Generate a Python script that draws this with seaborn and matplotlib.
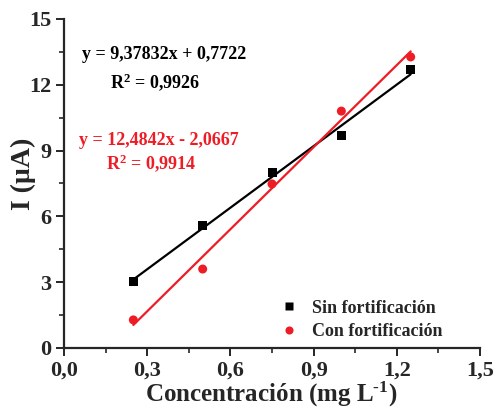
import numpy as np
import pandas as pd
import matplotlib
matplotlib.use("Agg")
import matplotlib.pyplot as plt
import seaborn as sns
from matplotlib.ticker import MultipleLocator, FuncFormatter

conc = [0.25, 0.50, 0.75, 1.00, 1.25]
sin_fort = [3.05, 5.58, 7.98, 9.71, 12.68]
con_fort = [1.28, 3.60, 7.48, 10.80, 13.27]
series_names = ["Sin fortificación", "Con fortificación"]
eq_sin = "y = 9,37832x + 0,7722"
r2_sin = "R$^2$ = 0,9926"
eq_con = "y = 12,4842x - 2,0667"
r2_con = "R$^2$ = 0,9914"

df = pd.DataFrame({
    "x": conc * 2,
    "y": sin_fort + con_fort,
    "serie": [series_names[0]] * len(conc) + [series_names[1]] * len(conc),
})

sns.set_style("ticks")
plt.rcParams["font.family"] = ["Liberation Serif", "DejaVu Serif"]
plt.rcParams["font.weight"] = "bold"
plt.rcParams["mathtext.fontset"] = "custom"
plt.rcParams["mathtext.rm"] = "Liberation Serif:bold"
plt.rcParams["mathtext.bf"] = "Liberation Serif:bold"
plt.rcParams["mathtext.it"] = "Liberation Serif:bold"

fig = plt.figure(figsize=(4.97, 4.11), dpi=100)
ax = fig.add_axes([0.1288, 0.1533, 0.8370, 0.8005])

colors = {series_names[0]: "#000000", series_names[1]: "#ee1c25"}
for name, sub in df.groupby("serie", sort=False):
    sns.regplot(data=sub, x="x", y="y", ax=ax, ci=None, scatter=False,
                truncate=True, color=colors[name], line_kws={"lw": 1.6})

sns.scatterplot(data=df, x="x", y="y", hue="serie", style="serie",
                markers={series_names[0]: "s", series_names[1]: "o"},
                palette=colors, s=42, edgecolor="none", ax=ax, zorder=3)

ax.set_xlim(0, 1.5)
ax.set_ylim(0, 15)
ax.xaxis.set_major_locator(MultipleLocator(0.3))
ax.xaxis.set_minor_locator(MultipleLocator(0.15))
ax.yaxis.set_major_locator(MultipleLocator(3))
ax.yaxis.set_minor_locator(MultipleLocator(1.5))
ax.xaxis.set_major_formatter(FuncFormatter(lambda v, p: f"{v:.1f}".replace(".", ",")))
ax.yaxis.set_major_formatter(FuncFormatter(lambda v, p: f"{v:.0f}"))
sns.despine(ax=ax)
for s in ["left", "bottom"]:
    ax.spines[s].set_linewidth(1.6)
ax.tick_params(which="major", length=6, width=1.4, labelsize=16, direction="out", pad=3)
ax.tick_params(which="minor", length=3.5, width=1.2, direction="out")
for lab in ax.get_xticklabels() + ax.get_yticklabels():
    lab.set_fontweight("bold")

ax.set_xlabel(r"Concentración (mg L$^{\text{-1}}$)", fontsize=18, fontweight="bold")
ax.set_ylabel("I (µA)", fontsize=20, fontweight="bold")
ax.xaxis.set_label_coords(0.499, -0.098)
ax.yaxis.set_label_coords(-0.068, 0.53)

ax.text(0.065, 13.36, eq_sin, fontsize=13, fontweight="bold", color="black", ha="left", va="center")
ax.text(0.166, 12.13, r2_sin, fontsize=13, fontweight="bold", color="black", ha="left", va="center")
ax.text(0.054, 9.48, eq_con, fontsize=13, fontweight="bold", color="#ee1c25", ha="left", va="center")
ax.text(0.151, 8.44, r2_con, fontsize=13, fontweight="bold", color="#ee1c25", ha="left", va="center")

leg = ax.legend(loc="lower right", bbox_to_anchor=(0.95, -0.025), frameon=False,
                prop={"family": "Liberation Serif", "weight": "bold", "size": 13},
                handletextpad=0.3, labelspacing=0.35, markerscale=0.9, title=None)

fig.savefig("out.png", dpi=100)
